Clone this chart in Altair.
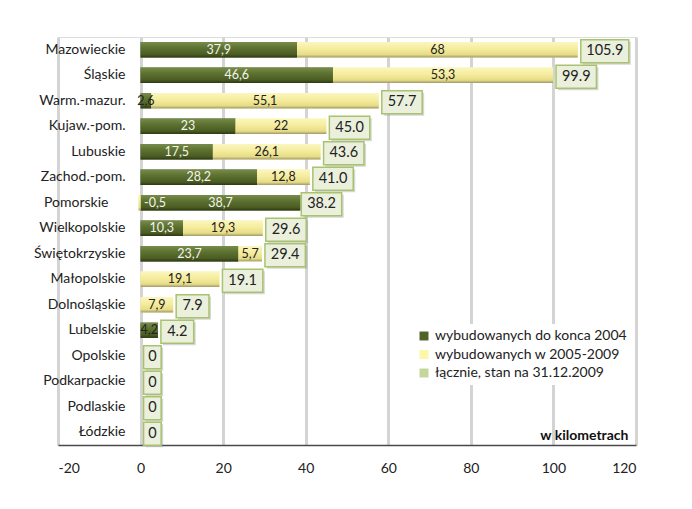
import altair as alt
import pandas as pd

regions = ["Mazowieckie", "Śląskie", "Warm.-mazur.", "Kujaw.-pom.", "Lubuskie",
           "Zachod.-pom.", "Pomorskie", "Wielkopolskie", "Świętokrzyskie",
           "Małopolskie", "Dolnośląskie", "Lubelskie", "Opolskie",
           "Podkarpackie", "Podlaskie", "Łódzkie"]
built_to_2004 = [37.9, 46.6, 2.6, 23, 17.5, 28.2, 38.7, 10.3, 23.7, 0, 0, 4.2, 0, 0, 0, 0]
built_2005_2009 = [68, 53.3, 55.1, 22, 26.1, 12.8, -0.5, 19.3, 5.7, 19.1, 7.9, 0, 0, 0, 0, 0]
total_2009 = [105.9, 99.9, 57.7, 45.0, 43.6, 41.0, 38.2, 29.6, 29.4, 19.1, 7.9, 4.2, 0, 0, 0, 0]

series_names = ["wybudowanych do konca 2004", "wybudowanych w 2005-2009",
                "łącznie, stan na 31.12.2009"]
series_colors = ["#4f6228", "#fbf7a6", "#c4d79b"]
x_ticks = [-20, 0, 20, 40, 60, 80, 100, 120]

df = pd.DataFrame({"region": regions, "d": built_to_2004,
                   "w": built_2005_2009, "t": total_2009})

W, H = 578, 408
PPU = W / 140.0
FONT = "Lato"

xscale = alt.Scale(domain=[-20, 120], nice=False)
xaxis = alt.Axis(values=x_ticks, grid=True, gridColor="#d4d4d4", gridWidth=3,
                 domainColor="#4a4a4a", domainWidth=1.5, ticks=False,
                 labelPadding=16, labelFontSize=14, labelFont=FONT,
                 labelExpr="toString(datum.value)",
                 labelColor="#222", title="w kilometrach", titleAnchor="end",
                 titleAlign="right", titleBaseline="bottom", titleY=-3,
                 titleX=W - 8, titleFontSize=14, titleFontWeight="bold",
                 titleFont=FONT, titleColor="#111")


def X(field):
    return alt.X(field, scale=xscale, axis=xaxis)


y = alt.Y("region:N", sort=regions,
          scale=alt.Scale(paddingInner=0.4, paddingOuter=0.2),
          axis=alt.Axis(title=None, offset=-71, domain=False, ticks=False,
                        labelPadding={"condition": {"test": "datum.value == 'Pomorskie'",
                                                    "value": 21},
                                      "value": 4},
                        labelFont=FONT, labelFontSize=14,
                        labelColor="#222"))

base = alt.Chart(df)

solid = base.transform_fold(["d", "w"], as_=["key", "val"]).transform_filter(
    "datum.val != 0"
).transform_calculate(
    series=f"datum.key == 'd' ? '{series_names[0]}' : '{series_names[1]}'",
    x0="datum.key == 'd' ? 0 : (datum.val >= 0 ? datum.d : 0)",
    x1="datum.key == 'd' ? datum.d : (datum.val >= 0 ? datum.d + datum.val : datum.val)",
).mark_bar(strokeWidth=0).encode(
    x=X("x0:Q"), x2="x1:Q", y=y,
    color=alt.Color("series:N",
                    scale=alt.Scale(domain=series_names, range=series_colors),
                    legend=alt.Legend(title=None, orient="none", legendX=354,
                                      legendY=287, fillColor="white", padding=5,
                                      symbolType="square", symbolSize=80,
                                      symbolStrokeWidth=0, labelFont=FONT,
                                      labelFontSize=14, labelColor="#222",
                                      rowPadding=4.5, labelLimit=400)),
)

grad_dark = alt.LinearGradient(
    gradient="linear", x1=0, x2=0, y1=0, y2=1,
    stops=[alt.GradientStop(color="#778c4b", offset=0),
           alt.GradientStop(color="#5f7332", offset=0.35),
           alt.GradientStop(color="#4b5d23", offset=0.8),
           alt.GradientStop(color="#2e3a12", offset=1)])
grad_yellow = alt.LinearGradient(
    gradient="linear", x1=0, x2=0, y1=0, y2=1,
    stops=[alt.GradientStop(color="#fbf6c0", offset=0),
           alt.GradientStop(color="#f5ec9c", offset=0.45),
           alt.GradientStop(color="#e6dc88", offset=0.82),
           alt.GradientStop(color="#a39b6a", offset=1)])

dark_bar = base.transform_filter("datum.d != 0").transform_calculate(
    zero="0").mark_bar(fill=grad_dark, strokeWidth=0).encode(
    x=X("zero:Q"), x2="d:Q", y=y)

yellow_bar = base.transform_filter("datum.w != 0").transform_calculate(
    ys="datum.w >= 0 ? datum.d : 0",
    ye="datum.w >= 0 ? datum.d + datum.w : datum.w",
).mark_bar(fill=grad_yellow, strokeWidth=0).encode(
    x=X("ys:Q"), x2="ye:Q", y=y)

dark_lbl = base.transform_filter("datum.d != 0").transform_calculate(
    lx="datum.d / 2", txt="replace(toString(datum.d), '.', ',')"
).mark_text(font=FONT, fontSize=12.5, baseline="middle").encode(
    x=X("lx:Q"), y=y, text="txt:N",
    color=alt.condition("datum.d < 5", alt.value("#222"), alt.value("#f4f4ec")))

yellow_lbl = base.transform_filter("datum.w != 0").transform_calculate(
    lx="datum.w < 0 ? 3.5 : datum.d + datum.w / 2",
    txt="replace(toString(datum.w), '.', ',')"
).mark_text(font=FONT, fontSize=12.5, baseline="middle").encode(
    x=X("lx:Q"), y=y, text="txt:N",
    color=alt.condition("datum.w < 0", alt.value("#f4f4ec"), alt.value("#222")))

box_base = base.transform_calculate(
    txt="datum.t == 0 ? '0' : format(datum.t, '.1f')"
).transform_calculate(
    bx0=f"datum.t + 3 / {PPU}",
    bx1=f"datum.t + (3 + 10 + 7.6 * length(datum.txt)) / {PPU}",
).transform_calculate(bxm="(datum.bx0 + datum.bx1) / 2")

box_shadow = box_base.mark_bar(size=23, fill="#8a8a8a", opacity=0.35,
                               xOffset=2, x2Offset=2, yOffset=3.5,
                               strokeWidth=0).encode(
    x=X("bx0:Q"), x2="bx1:Q", y=y)
box = box_base.mark_bar(size=23, fill="#eaf0dc", stroke="#a9c26f",
                        strokeWidth=1.5, yOffset=1.5).encode(
    x=X("bx0:Q"), x2="bx1:Q", y=y)
box_txt = box_base.mark_text(font=FONT, fontSize=14.5, color="#222",
                             baseline="middle", dy=1.5).encode(
    x=X("bxm:Q"), y=y, text="txt:N")

chart = alt.layer(solid, dark_bar, yellow_bar, dark_lbl, yellow_lbl,
                  box_shadow, box, box_txt).properties(
    width=W, height=H,
    autosize=alt.AutoSizeParams(type="none"),
    padding={"left": 50, "top": 29, "right": 40, "bottom": 50},
).configure_view(stroke=None).configure(background="white")

chart.save("out.html", embed_options={"renderer": "svg", "actions": False})
